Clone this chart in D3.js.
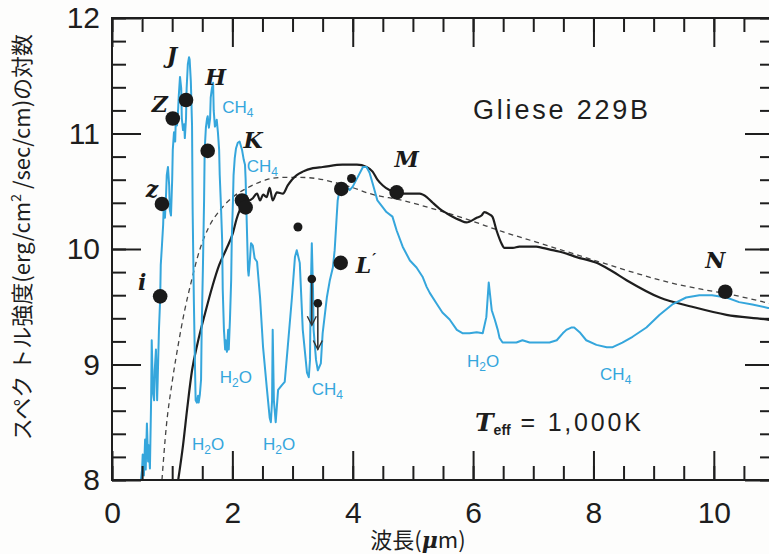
<!DOCTYPE html>
<html><head><meta charset="utf-8">
<script src="https://cdn.jsdelivr.net/npm/d3@7"></script>
<style>
html,body{margin:0;padding:0;background:#fdfdfc;}
svg{display:block;}
</style></head>
<body><svg id="chart" width="769" height="554"></svg>
<script>
// ---------- DATA ----------
// observed spectrum of Gliese 229B : [wavelength (µm), log flux]
const observedSpectrum = [
[0.48,8.00],[0.50,8.09],[0.51,8.22],[0.53,8.04],[0.55,8.35],[0.56,8.09],[0.58,8.49],[0.60,8.16],[0.61,8.30],[0.63,8.10],
[0.65,8.69],[0.66,9.21],[0.68,8.76],[0.70,8.69],[0.71,8.95],[0.73,9.13],[0.75,8.69],[0.76,8.88],[0.78,9.30],[0.80,9.56],
[0.81,9.86],[0.83,10.03],[0.85,10.21],[0.86,10.38],[0.88,10.27],[0.90,10.49],[0.91,10.64],[0.93,10.71],[0.95,10.55],[0.96,10.34],
[0.98,10.29],[1.00,10.60],[1.01,10.86],[1.03,11.01],[1.05,10.93],[1.06,11.12],[1.08,11.07],[1.10,11.22],[1.11,11.33],[1.13,11.49],
[1.15,11.39],[1.16,11.13],[1.18,11.03],[1.20,11.08],[1.21,10.96],[1.23,11.13],[1.24,11.39],[1.26,11.60],[1.28,11.66],[1.29,11.64],
[1.31,11.45],[1.33,11.07],[1.34,10.34],[1.36,9.56],[1.38,8.95],[1.39,8.69],[1.41,8.67],[1.43,8.73],[1.44,8.67],[1.46,8.74],
[1.48,8.87],[1.49,9.30],[1.51,9.82],[1.53,10.42],[1.54,10.86],[1.56,11.05],[1.58,11.13],[1.59,11.15],[1.61,11.05],[1.63,11.13],
[1.64,11.31],[1.66,11.39],[1.68,11.44],[1.69,11.20],[1.71,11.06],[1.73,11.09],[1.74,11.12],[1.76,11.01],[1.78,10.86],[1.79,10.64],
[1.81,10.38],[1.83,10.08],[1.84,9.65],[1.86,9.30],[1.88,9.13],[1.89,9.21],[1.91,9.11],[1.93,9.30],[1.94,9.13],[1.96,9.39],
[1.98,9.73],[1.99,10.08],[2.01,10.42],[2.02,10.64],[2.04,10.79],[2.06,10.87],[2.09,10.92],[2.12,10.93],[2.16,10.86],[2.19,10.77],
[2.21,10.73],[2.22,10.61],[2.24,10.21],[2.26,9.82],[2.27,9.77],[2.29,9.89],[2.31,10.05],[2.34,10.03],[2.37,9.92],[2.41,9.89],
[2.46,9.58],[2.51,9.15],[2.57,8.81],[2.62,8.54],[2.64,8.50],[2.66,8.69],[2.67,9.30],[2.69,8.69],[2.72,8.50],[2.76,8.78],
[2.82,8.82],[2.87,8.85],[2.92,9.15],[2.99,9.58],[3.04,9.93],[3.07,9.99],[3.12,9.88],[3.17,9.30],[3.24,8.93],[3.27,8.89],
[3.29,9.04],[3.30,9.56],[3.32,10.05],[3.34,9.65],[3.35,9.30],[3.39,9.04],[3.42,8.95],[3.47,9.01],[3.50,9.27],[3.57,9.58],
[3.62,9.73],[3.67,9.84],[3.70,9.99],[3.73,10.25],[3.75,10.42],[3.78,10.51],[3.83,10.57],[3.90,10.54],[3.95,10.51],[4.00,10.54],
[4.08,10.62],[4.17,10.71],[4.23,10.71],[4.28,10.66],[4.33,10.57],[4.41,10.42],[4.50,10.36],[4.56,10.32],[4.66,10.28],[4.73,10.16],
[4.83,10.02],[4.95,9.90],[5.06,9.84],[5.16,9.76],[5.23,9.67],[5.28,9.62],[5.39,9.53],[5.49,9.45],[5.61,9.39],[5.73,9.30],
[5.83,9.27],[5.94,9.27],[6.06,9.28],[6.16,9.27],[6.22,9.41],[6.26,9.71],[6.31,9.47],[6.36,9.39],[6.41,9.30],[6.44,9.23],
[6.49,9.19],[6.61,9.19],[6.72,9.19],[6.82,9.21],[6.94,9.19],[7.05,9.19],[7.15,9.19],[7.27,9.19],[7.39,9.21],[7.49,9.27],
[7.55,9.30],[7.63,9.32],[7.68,9.32],[7.77,9.28],[7.88,9.21],[8.05,9.17],[8.22,9.15],[8.32,9.15],[8.48,9.19],[8.65,9.24],
[8.88,9.32],[9.10,9.43],[9.31,9.52],[9.54,9.58],[9.76,9.60],[9.97,9.60],[10.21,9.58],[10.42,9.54],[10.64,9.52],[10.90,9.49],[11.0,9.48]
];
// model spectrum (solid black)
const modelSpectrum = [
[1.10,8.00],[1.18,8.30],[1.25,8.62],[1.33,8.95],[1.42,9.18],[1.55,9.45],[1.67,9.68],[1.78,9.86],[1.90,10.00],[2.01,10.14],
[2.07,10.26],[2.17,10.38],[2.34,10.44],[2.41,10.48],[2.46,10.42],[2.51,10.47],[2.57,10.45],[2.62,10.53],[2.67,10.42],[2.74,10.49],
[2.84,10.48],[2.92,10.55],[2.99,10.60],[3.07,10.64],[3.17,10.67],[3.34,10.70],[3.50,10.71],[3.83,10.73],[4.07,10.73],[4.23,10.71],
[4.33,10.67],[4.41,10.60],[4.50,10.55],[4.61,10.51],[4.73,10.49],[4.83,10.48],[5.11,10.48],[5.23,10.45],[5.33,10.40],[5.44,10.35],
[5.56,10.31],[5.66,10.28],[5.78,10.25],[5.89,10.23],[6.06,10.27],[6.14,10.29],[6.19,10.32],[6.27,10.30],[6.32,10.28],[6.39,10.16],
[6.47,10.05],[6.52,10.01],[6.66,10.01],[6.77,10.02],[7.05,10.02],[7.15,10.01],[7.32,9.99],[7.49,9.97],[7.72,9.93],[8.05,9.88],
[8.27,9.82],[8.55,9.73],[9.10,9.58],[9.64,9.50],[10.21,9.43],[10.87,9.39],[11.0,9.38]
];
// 1,000 K blackbody (dashed)
const blackbody = [
[0.83,8.00],[0.90,8.45],[1.00,8.85],[1.10,9.17],[1.20,9.45],[1.30,9.68],[1.45,9.98],[1.60,10.18],[1.80,10.34],[2.01,10.45],
[2.29,10.54],[2.57,10.60],[2.84,10.62],[3.12,10.62],[3.40,10.61],[3.67,10.58],[3.95,10.54],[4.28,10.48],[4.83,10.42],[5.39,10.34],
[5.94,10.25],[6.49,10.15],[7.05,10.06],[7.60,9.97],[8.15,9.88],[8.71,9.79],[9.26,9.71],[9.81,9.65],[10.14,9.62],[11.0,9.52]
];
// photometry (large dots)
const photBands = ["i","z","Z","J","H","K","","","L","M","N"];
const photWave  = [0.80, 0.83, 1.01, 1.23, 1.59, 2.16, 2.22, 3.81, 3.80, 4.73, 10.19];
const photValue = [9.59,10.39,11.13,11.29,10.85,10.42,10.36,10.52, 9.88,10.49, 9.63];
// small dots
const smallWave  = [3.09, 3.98];
const smallValue = [10.19, 10.61];
// upper limits (small dots with arrows)
const limitWave  = [3.32, 3.42];
const limitValue = [9.74, 9.53];
const limitTo    = [9.34, 9.13];
// molecule annotations
const molName = ["CH","CH","H","H","H","CH","H","CH"];
const molSub  = ["4","4","2","2","2","4","2","4"];
const molTail = ["","","O","O","O","","O",""];
const molWave = [1.83, 2.24, 1.79, 1.33, 2.51, 3.32, 5.90, 8.11];
const molVal  = [11.18,10.67, 8.84, 8.26, 8.26, 8.74, 8.98, 8.87];
// axis ticks
const xMinorTicks = d3.range(0, 11.01, 0.5);
const xMajorTicks = [0, 2, 4, 6, 8, 10];
const yMinorTicks = d3.range(8, 12.001, 0.2);
const yMajorTicks = [8, 9, 10, 11, 12];

// ---------- LAYOUT / STYLE ----------
const svg = d3.select("#chart");
const L = 112, R = 774, T = 18, B = 480;
const x = d3.scaleLinear().domain([0, 11]).range([L, R]);
const y = d3.scaleLinear().domain([8, 12]).range([B, T]);
const BLUE = "#35a6dc", INK = "#1e1e1e";
const labelOffset = {i:[-18,-6], z:[-10,-7], Z:[-13,-6], J:[-14,-37], H:[8,-66], K:[11,-52], L:[15,10], M:[10,-25], N:[-10,-24]};

svg.append("defs").append("clipPath").attr("id","plot")
  .append("rect").attr("x",L).attr("y",T).attr("width",R-L).attr("height",B-T);

const plot = svg.append("g").attr("clip-path","url(#plot)");
const smooth = d3.line().x(d=>x(d[0])).y(d=>y(d[1])).curve(d3.curveMonotoneX);
const straight = d3.line().x(d=>x(d[0])).y(d=>y(d[1]));

plot.append("path").attr("d", smooth(blackbody))
  .attr("fill","none").attr("stroke","#444").attr("stroke-width",1.3).attr("stroke-dasharray","5,4");
plot.append("path").attr("d", smooth(modelSpectrum))
  .attr("fill","none").attr("stroke",INK).attr("stroke-width",2.2).attr("stroke-linejoin","round");
plot.append("path").attr("d", straight(observedSpectrum))
  .attr("fill","none").attr("stroke",BLUE).attr("stroke-width",2).attr("stroke-linejoin","round");

// axes
function axisG(gen, tr){ const g = svg.append("g").attr("transform",tr).call(gen); g.select(".domain").remove(); return g; }
const tickStyle = g => g.selectAll(".tick line").attr("stroke",INK).attr("stroke-width",2);
tickStyle(axisG(d3.axisBottom(x).tickValues(xMinorTicks).tickSize(-14).tickFormat(""), `translate(0,${B})`));
tickStyle(axisG(d3.axisTop(x).tickValues(xMinorTicks).tickSize(-14).tickFormat(""), `translate(0,${T})`));
tickStyle(axisG(d3.axisTop(x).tickValues(xMajorTicks).tickSize(-29).tickFormat(""), `translate(0,${T})`));
tickStyle(axisG(d3.axisLeft(y).tickValues(yMinorTicks).tickSize(-14).tickFormat(""), `translate(${L},0)`));
tickStyle(axisG(d3.axisRight(y).tickValues(yMinorTicks).tickSize(-14).tickFormat(""), `translate(${R},0)`));
tickStyle(axisG(d3.axisRight(y).tickValues(yMajorTicks).tickSize(-29).tickFormat(""), `translate(${R},0)`));
const xb = axisG(d3.axisBottom(x).tickValues(xMajorTicks).tickSize(-29).tickPadding(22).tickFormat(d3.format("d")), `translate(0,${B})`);
tickStyle(xb);
const yl = axisG(d3.axisLeft(y).tickValues(yMajorTicks).tickSize(-29).tickPadding(12).tickFormat(d3.format("d")), `translate(${L},0)`);
tickStyle(yl);
[xb, yl].forEach(g => g.selectAll("text").attr("font-family","'Liberation Sans', Arial, sans-serif")
  .attr("font-size",30).attr("fill",INK));
svg.append("rect").attr("x",L).attr("y",T).attr("width",R-L).attr("height",B-T)
  .attr("fill","none").attr("stroke",INK).attr("stroke-width",2);

// upper limits
limitWave.forEach((w,i)=>{
  const cx = x(w), y0 = y(limitValue[i]), y1 = y(limitTo[i]);
  svg.append("line").attr("x1",cx).attr("x2",cx).attr("y1",y0).attr("y2",y1).attr("stroke","#333").attr("stroke-width",1.6);
  svg.append("path").attr("d",`M${cx-4.5},${y1-9}L${cx},${y1}L${cx+4.5},${y1-9}`).attr("fill","none").attr("stroke","#333").attr("stroke-width",1.4);
  svg.append("circle").attr("cx",cx).attr("cy",y0).attr("r",4.3).attr("fill","#1a1a1a");
});
smallWave.forEach((w,i)=> svg.append("circle").attr("cx",x(w)).attr("cy",y(smallValue[i])).attr("r",4.5).attr("fill","#1a1a1a"));
photWave.forEach((w,i)=> svg.append("circle").attr("cx",x(w)).attr("cy",y(photValue[i])).attr("r",7.3).attr("fill","#1a1a1a"));

// band labels
photBands.forEach((b,i)=>{
  if(!b) return;
  const o = labelOffset[b];
  const t = svg.append("text").attr("x",x(photWave[i])+o[0]).attr("y",y(photValue[i])+o[1])
    .attr("text-anchor", b==="L" ? "start" : "middle")
    .attr("font-family","'DejaVu Serif', serif").attr("font-weight","bold").attr("font-style","italic")
    .attr("font-size",22).attr("fill","#1a1a1a").text(b);
  if(b==="L") t.append("tspan").attr("font-size",15).attr("dy",-9).attr("dx",1).text("′");
});

// molecule labels
molName.forEach((m,i)=>{
  const t = svg.append("text").attr("x",x(molWave[i])).attr("y",y(molVal[i]))
    .attr("font-family","'Liberation Sans', Arial, sans-serif").attr("font-size",17).attr("fill",BLUE);
  t.append("tspan").text(m);
  t.append("tspan").attr("font-size",12).attr("dy",4).text(molSub[i]);
  if(molTail[i]) t.append("tspan").attr("dy",-4).text(molTail[i]);
});

// titles
svg.append("text").attr("x",473).attr("y",119).attr("font-family","'Liberation Sans', Arial, sans-serif")
  .attr("font-size",27).attr("letter-spacing",2.8).attr("fill",INK).text("Gliese 229B");
const te = svg.append("text").attr("x",475).attr("y",431).attr("fill",INK);
te.append("tspan").attr("font-family","'DejaVu Serif', serif").attr("font-weight","bold").attr("font-style","italic").attr("font-size",25).text("T");
te.append("tspan").attr("font-family","'Liberation Sans', Arial, sans-serif").attr("font-weight","bold").attr("font-size",14).attr("dy",4).text("eff");
te.append("tspan").attr("font-family","'Liberation Sans', Arial, sans-serif").attr("font-size",25).attr("dy",-4).attr("letter-spacing",2.8).text(" = 1,000K");

// axis titles
const xt = svg.append("text").attr("x",418).attr("y",548).attr("text-anchor","middle")
  .attr("font-family","'Noto Sans CJK JP', sans-serif").attr("font-size",22).attr("fill",INK);
xt.append("tspan").text("波長(");
xt.append("tspan").attr("font-style","italic").attr("font-weight","bold").attr("font-family","'DejaVu Serif', serif").text("μ");
xt.append("tspan").text("m)");
const yt = svg.append("text").attr("transform","translate(30,237) rotate(-90)").attr("text-anchor","middle")
  .attr("font-family","'Noto Sans CJK JP', sans-serif").attr("font-size",22).attr("fill",INK);
yt.append("tspan").text("スペク トル強度(erg/cm");
yt.append("tspan").attr("font-size",14).attr("dy",-9).text("2");
yt.append("tspan").attr("dy",9).text(" /sec/cm)の対数");
</script></body></html>
